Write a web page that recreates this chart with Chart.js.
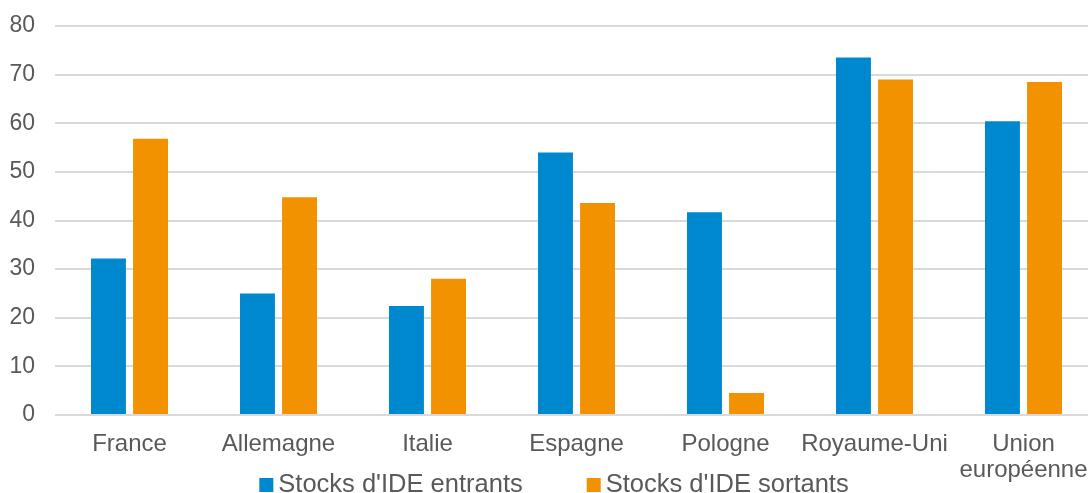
<!DOCTYPE html>
<html>
<head>
<meta charset="utf-8">
<script src="https://cdn.jsdelivr.net/npm/chart.js@4.4.1/dist/chart.umd.min.js"></script>
<style>
  html, body { margin: 0; padding: 0; background: #fff; overflow: hidden; }
  #wrap { position: relative; width: 1098px; height: 493px; }
</style>
</head>
<body>
<div id="wrap"><canvas id="c"></canvas></div>
<script>
// Stocks d'IDE en % du PIB
const categories = ['France', 'Allemagne', 'Italie', 'Espagne', 'Pologne', 'Royaume-Uni', ['Union', 'européenne']];
const seriesNames = ["Stocks d'IDE entrants", "Stocks d'IDE sortants"];
const entrants = [32.2, 25.0, 22.4, 54.0, 41.7, 73.5, 60.4];
const sortants = [56.8, 44.8, 28.0, 43.6, 4.5, 69.0, 68.5];
const yTicks = [0, 10, 20, 30, 40, 50, 60, 70, 80];

const colors = ['#0088CE', '#F39200'];
const textColor = '#595959';
const fontFamily = '"Liberation Sans", Arial, sans-serif';

// Legend drawn centred at the bottom of the canvas
const bottomLegend = {
  id: 'bottomLegend',
  afterDraw(chart) {
    const ctx = chart.ctx;
    const size = 25.5, box = 14, gap = 5, spacing = 64;
    ctx.save();
    ctx.font = size + 'px ' + fontFamily;
    const widths = chart.data.datasets.map(d => ctx.measureText(d.label).width);
    let total = 0;
    widths.forEach((w, i) => { total += box + gap + w + (i < widths.length - 1 ? spacing : 0); });
    let x = (chart.width - total) / 2 + 5;
    const cy = 485;
    chart.data.datasets.forEach((d, i) => {
      ctx.fillStyle = d.backgroundColor;
      ctx.fillRect(x, cy - box / 2, box, box);
      x += box + gap;
      ctx.fillStyle = textColor;
      ctx.textBaseline = 'middle';
      ctx.textAlign = 'left';
      ctx.fillText(d.label, x, cy);
      x += widths[i] + spacing;
    });
    ctx.restore();
  }
};

new Chart(document.getElementById('c'), {
  type: 'bar',
  data: {
    labels: categories,
    datasets: [
      { label: seriesNames[0], data: entrants, backgroundColor: colors[0] },
      { label: seriesNames[1], data: sortants, backgroundColor: colors[1] }
    ]
  },
  options: {
    responsive: true,
    maintainAspectRatio: false,
    animation: false,
    layout: { padding: { top: 26, left: 0, right: 0, bottom: 3 } },
    datasets: {
      bar: { categoryPercentage: 0.565, barPercentage: 0.83 }
    },
    plugins: {
      legend: { display: false },
      tooltip: { enabled: false }
    },
    scales: {
      x: {
        grid: { display: false },
        border: { display: false },
        ticks: {
          color: textColor,
          font: { family: fontFamily, size: 24, lineHeight: 1.1 },
          maxRotation: 0,
          autoSkip: false,
          padding: 8
        },
        afterFit(scale) { scale.height = 75; }
      },
      y: {
        min: 0,
        max: 80,
        afterBuildTicks(scale) { scale.ticks = yTicks.map(v => ({ value: v })); },
        grid: { color: '#d9d9d9', lineWidth: 2, drawTicks: false },
        border: { display: false },
        ticks: {
          color: textColor,
          font: { family: fontFamily, size: 23 },
          padding: 20
        },
        afterFit(scale) {
          scale.width = 55;
          scale.paddingTop = 0;
          scale.paddingBottom = 0;
        }
      }
    }
  },
  plugins: [bottomLegend]
});
</script>
</body>
</html>
